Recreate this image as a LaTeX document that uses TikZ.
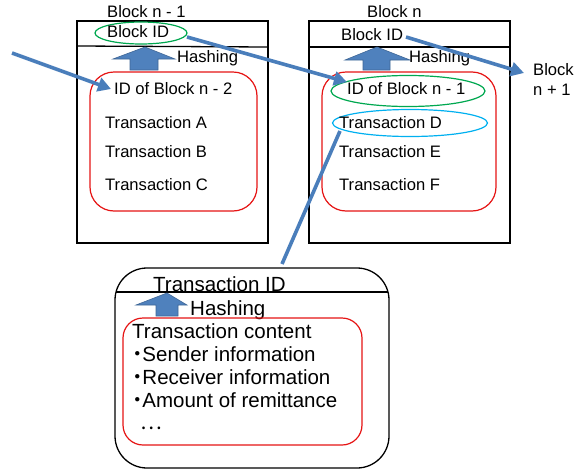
\documentclass[tikz,border=0pt]{standalone}
\usepackage{fontspec}
\setmainfont{Liberation Sans}
\newfontfamily\cjk{Noto Sans CJK JP}
\usetikzlibrary{arrows.meta,shapes.geometric}
\definecolor{arrowblue}{RGB}{74,126,187}
\definecolor{hashblue}{RGB}{79,129,189}
\definecolor{redline}{RGB}{230,20,20}
\definecolor{greenline}{RGB}{0,168,80}
\definecolor{cyanline}{RGB}{0,176,240}
\tikzset{
  txt/.style={anchor=base west, inner sep=0pt, font=\fontsize{16.6}{18}\selectfont},
  btxt/.style={anchor=base west, inner sep=0pt, font=\fontsize{20.5}{22}\selectfont},
  frame/.style={draw=black, line width=1.3pt},
  redbox/.style={draw=redline, line width=1.2pt},
  flow/.style={draw=arrowblue, line width=3.6pt, -{Triangle[length=13pt,width=14pt]}},
  link/.style={draw=arrowblue, line width=3.6pt},
  hasharrow/.style={fill=hashblue, draw=hashblue!80!black, line width=0.6pt},
}
\newcommand{\kdot}{\makebox[0.5em][c]{\cjk ・}}
\begin{document}
\begin{tikzpicture}[x=1pt,y=-1pt]
\useasboundingbox (0,0) rectangle (582,469);
\fill[white] (0,0) rectangle (582,469);

% ---------- Left block (n-1)
\draw[frame] (77,21) rectangle (268,243);
\draw[frame] (77,46) -- (268,47);
\node[txt] (lbl1) at (107,17) {Block n - 1};
\node[draw=greenline, line width=1.2pt, ellipse, minimum width=92pt, minimum height=22pt, inner sep=0pt] (lid) at (141,33) {};
\node[txt] (lidt) at (107,37) {Block ID};
\draw[hasharrow] (145,47) -- (175,59) -- (158,59) -- (158,70) -- (130,70) -- (130,59) -- (113,59) -- cycle;
\node[txt] (lhash) at (177,62) {Hashing};
\draw[redbox, rounded corners=24pt] (90,72) rectangle (257,211);
\node[txt] (lprev) at (114,94) {ID of Block n - 2};
\node[txt] (ta) at (105,128) {Transaction A};
\node[txt] (tb) at (105,157) {Transaction B};
\node[txt] (tc) at (105,190) {Transaction C};

% ---------- Right block (n)
\draw[frame] (309,21) rectangle (510,243);
\draw[frame] (309,47) -- (510,47);
\node[txt] (lbl2) at (367,17) {Block n};
\node[txt] (ridt) at (341,40) {Block ID};
\draw[hasharrow] (377,47) -- (410,60) -- (390,60) -- (390,70) -- (363,70) -- (363,60) -- (345,60) -- cycle;
\node[txt] (rhash) at (409,62) {Hashing};
\draw[redbox, rounded corners=24pt] (322,72) rectangle (496,211);
\node[draw=greenline, line width=1.2pt, ellipse, minimum width=154pt, minimum height=31pt, inner sep=0pt] (rprevE) at (408,91) {};
\node[txt] (rprev) at (347,94) {ID of Block n - 1};
\node[draw=cyanline, line width=1.2pt, ellipse, minimum width=155pt, minimum height=27pt, inner sep=0pt] (tdE) at (410,123) {};
\node[txt] (td) at (339,128) {Transaction D};
\node[txt] (te) at (339,157) {Transaction E};
\node[txt] (tf) at (339,190) {Transaction F};

% ---------- Block n+1 label
\node[txt] (nx1) at (533,75) {Block};
\node[txt] (nx2) at (533,95) {n + 1};

% ---------- Bottom transaction box
\draw[frame, rounded corners=32pt] (115,268) rectangle (389,468);
\draw[frame] (116,292) -- (388,292);
\node[btxt] (tid) at (153,291) {Transaction ID};
\draw[hasharrow] (167,293) -- (187,305) -- (178,305) -- (178,316) -- (156,316) -- (156,305) -- (136,305) -- cycle;
\node[btxt] (bhash) at (190,315) {Hashing};
\draw[redbox, rounded corners=20pt] (123,318) rectangle (362,445);
\node[btxt] (tc1) at (132,338) {Transaction content};
\node[btxt] (tc2) at (132,361) {\kdot Sender information};
\node[btxt] (tc3) at (132,384) {\kdot Receiver information};
\node[btxt] (tc4) at (132,407) {\kdot Amount of remittance};
\node[btxt] (tc5) at (140,429) {\smash{\cjk …}};

% ---------- Connectors
\coordinate (inStart) at (12,53);
\coordinate (inTip) at (111,89);
\coordinate (lidR) at (187,37);
\coordinate (rprevTip) at (347,82);
\coordinate (ridR) at (406,37);
\coordinate (nextTip) at (524,73);
\coordinate (tdL) at (340,131);
\coordinate (boxTop) at (282,264);
\draw[flow] (inStart) -- (inTip);
\draw[flow] (lidR) -- (rprevTip);
\draw[flow] (ridR) -- (nextTip);
\draw[link] (tdL) -- (boxTop);
\end{tikzpicture}
\end{document}
